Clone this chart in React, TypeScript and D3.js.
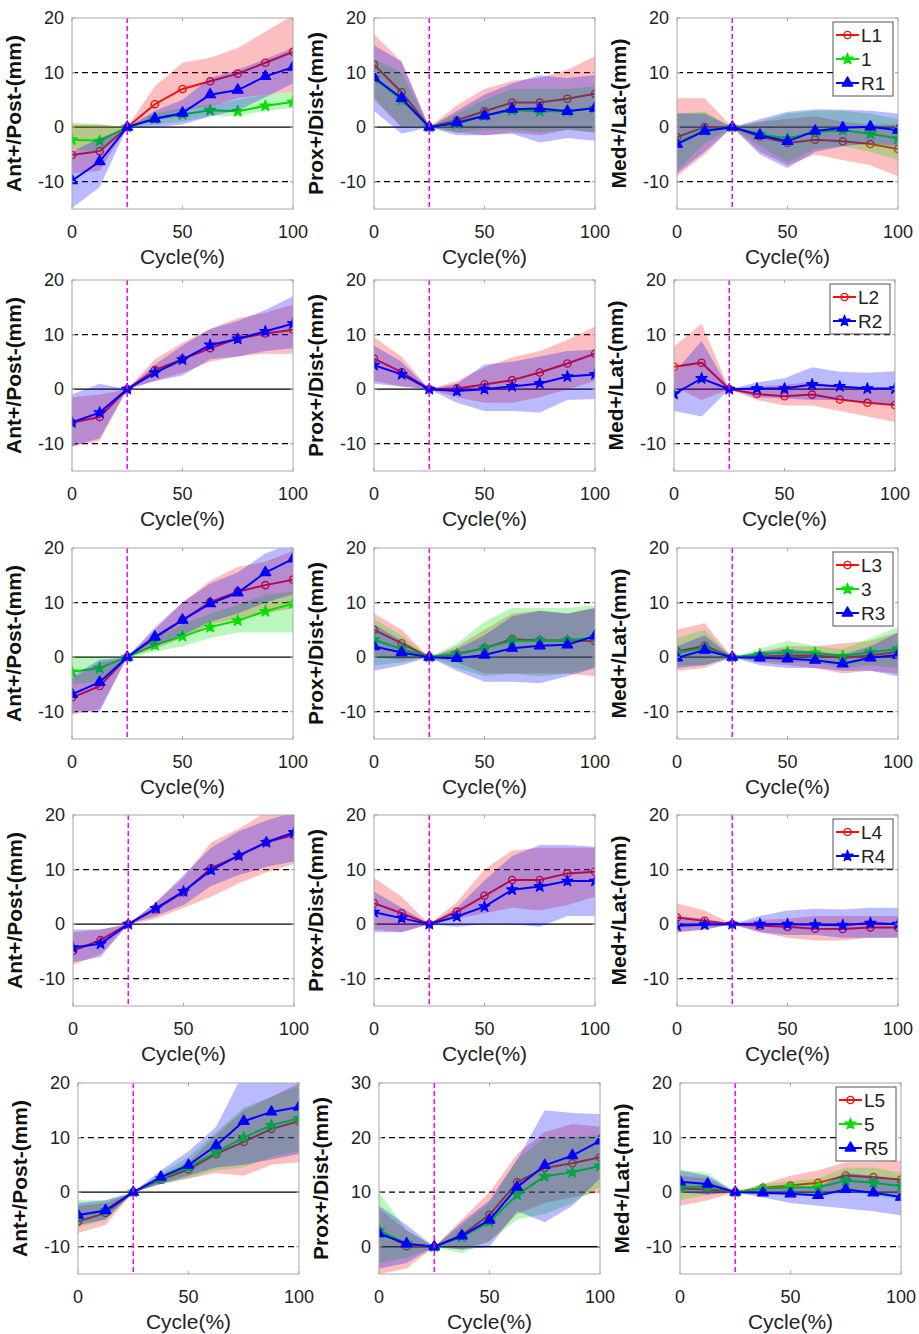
import React from 'react';
import * as d3 from 'd3';

// gait cycle samples (%)
const cycle = [0, 12.5, 25, 37.5, 50, 62.5, 75, 87.5, 100];

// m = mean, lo/hi = band edges. L = left, M = middle, R = right
// row 1
const ap1L = { m: [-5.1, -4.4, 0, 4.2, 7.0, 8.4, 9.8, 11.8, 13.8], lo: [-8.5, -8, 0, 1.3, 3.2, 3.8, 5.3, 6.0, 6.5], hi: [0.5, 0.5, 0, 7.5, 11.8, 12.7, 14.5, 17.5, 20.5] };
const ap1M = { m: [-2.3, -2.5, 0, 1.5, 2.3, 3.1, 2.9, 3.9, 4.6], lo: [-4, -4.5, 0, 0.5, 1, 2, 2, 3, 3.5], hi: [0.8, 0.5, 0, 2.5, 3.5, 4, 5, 6, 6.5] };
const ap1R = { m: [-9.8, -6.3, 0, 1.55, 2.6, 5.95, 6.8, 9.3, 11.0], lo: [-14.8, -11, 0, 0, 0.5, 2, 3, 5.5, 8], hi: [-4.5, -2, 0, 3, 5, 9, 10.5, 12.5, 14.5] };
const pd1L = { m: [11.45, 6.4, 0, 1.25, 2.9, 4.5, 4.5, 5.2, 6.1], lo: [5, 0, 0, -1, -1.5, -1, -1.5, -0.5, -1], hi: [17, 12, 0, 4, 7, 8.5, 9, 10.5, 13] };
const pd1M = { m: [9.0, 5.0, 0, 0.6, 2.1, 3.1, 2.9, 2.9, 3.5], lo: [5.5, 0, 0, -1, -0.5, -0.5, -1, -0.5, -1], hi: [12.5, 10, 0, 2.5, 5, 7, 7, 7, 7.5] };
const pd1R = { m: [9.1, 5.3, 0, 0.8, 2.1, 3.3, 3.4, 2.9, 3.5], lo: [3, -1.2, 0, -1.5, -1.5, -1.2, -2.8, -2, -2.5], hi: [15, 12, 0, 3, 6, 8, 9.5, 9, 9.5] };
const ml1L = { m: [-1.8, 0, 0, -1.7, -2.9, -2.3, -2.6, -3.1, -4.0], lo: [-9, -5, 0, -4.5, -7, -5, -6, -7, -9], hi: [5.3, 5.3, 0, 1, 1.5, 2, 1, 0.5, 0.5] };
const ml1M = { m: [-2.9, -0.6, 0, -1.3, -2.1, -0.9, -0.55, -1.2, -2.1], lo: [-8, -3, 0, -3.5, -6.5, -4, -3.5, -4.5, -6], hi: [2.5, 2.8, 0, 1, 2.5, 3, 3, 2.5, 1.5] };
const ml1R = { m: [-3.1, -0.7, 0, -1.5, -2.6, -0.7, -0.1, 0.05, -0.55], lo: [-8.5, -4.5, 0, -5, -7.5, -4.5, -3.5, -3, -3.5], hi: [2.5, 2.5, 0, 1.5, 2.8, 3.3, 3.2, 3, 2.5] };
// row 2
const ap2L = { m: [-6.1, -5.1, 0, 3.5, 5.5, 7.5, 9.3, 10.2, 10.9], lo: [-10.5, -9.5, 0, 1.5, 3, 5, 6, 6.5, 6.5], hi: [-1.5, -1, 0, 5.5, 8.5, 11, 13, 14, 15.5] };
const ap2R = { m: [-6.1, -4.3, 0, 3.0, 5.4, 8.1, 9.2, 10.6, 12.0], lo: [-10.5, -9, 0, 1.5, 2.5, 5.5, 6, 7, 7.5], hi: [-1, 1, 0, 4.5, 8, 11, 12.5, 14.5, 17] };
const pd2L = { m: [5.6, 3.1, 0, 0.1, 0.85, 1.65, 3.05, 4.7, 6.5], lo: [1.5, 0.5, 0, -1.5, -2.5, -2.5, -1.5, 0, 1.5], hi: [9.5, 6, 0, 1.5, 4, 5.8, 7, 9, 11.5] };
const pd2R = { m: [4.4, 2.7, 0, -0.35, 0, 0.5, 1.05, 2.3, 2.7], lo: [1, 0.5, 0, -2.5, -4, -4, -4.3, -2, -1.8], hi: [8, 5, 0, 1, 4.5, 5, 6, 7, 7.2] };
const ml2L = { m: [4.1, 4.85, 0, -0.9, -1.3, -1.0, -1.9, -2.5, -2.9], lo: [0.5, -2, 0, -2, -3, -3, -4, -5, -6], hi: [7.8, 12, 0, 0.5, 0.8, 1.3, 0.5, 0, 0] };
const ml2R = { m: [-0.9, 1.95, 0, 0.1, 0.1, 0.85, 0.5, 0.1, 0.1], lo: [-4, -5, 0, -1.5, -1.7, -2, -2, -2.5, -3], hi: [3, 8.8, 0, 1.2, 2, 4, 3.2, 3, 3.3] };
// row 3
const ap3L = { m: [-7.4, -5.3, 0, 3.5, 6.8, 10.1, 12.0, 13.2, 14.2], lo: [-10.5, -9.5, 0, 1.5, 3.5, 6, 7, 8, 9], hi: [-4, -1, 0, 5, 10, 14, 16.5, 17.5, 19.5] };
const ap3M = { m: [-2.7, -2.0, 0, 2.2, 3.8, 5.5, 6.7, 8.4, 9.8], lo: [-5, -4.5, 0, 1, 2, 3.5, 4.5, 4.5, 4.5], hi: [0, 0, 0, 3.5, 6, 8, 9.5, 11.5, 12] };
const ap3R = { m: [-6.8, -4.6, 0, 3.7, 6.8, 9.8, 11.8, 15.5, 18.0], lo: [-10, -10, 0, 2, 4, 6.5, 8, 10, 11.5], hi: [-3.5, -0.5, 0, 5.5, 10, 13.5, 15.5, 19, 21] };
const pd3L = { m: [5.0, 2.55, 0, 0.55, 1.65, 3.3, 3.05, 3.05, 2.9], lo: [0, -0.5, 0, -1, -3, -3, -3, -3, -3.5], hi: [8, 5, 0, 2, 5, 8, 8.5, 8, 9] };
const pd3M = { m: [3.2, 1.5, 0, 0.6, 1.65, 3.0, 3.0, 3.05, 3.65], lo: [-1.5, -1, 0, -2, -3.5, -3, -3.5, -3, -2], hi: [7, 4, 0, 2.5, 6.5, 9, 9, 9, 9.5] };
const pd3R = { m: [1.95, 0.85, 0, -0.2, 0.4, 1.65, 2.1, 2.25, 3.9], lo: [-2.5, -1.5, 0, -2.5, -4.5, -4.5, -4.8, -3.5, -2], hi: [6, 3, 0, 1.5, 4, 7.5, 8.5, 8, 9] };
const ml3L = { m: [1.05, 2.1, 0, 0.1, 0.3, 0.3, -0.1, 0.3, 1.0], lo: [-2.5, -2, 0, -1, -1.5, -2, -3, -2.5, -3], hi: [5, 6.2, 0, 1, 2, 2, 2.5, 3, 4.5] };
const ml3M = { m: [0.8, 1.7, 0, 0.5, 0.9, 0.8, 0.2, 0.9, 1.5], lo: [-1.5, -1.5, 0, -0.8, -1, -1, -2, -1.5, -2], hi: [3.5, 5, 0, 1.5, 3, 2, 1.5, 3.5, 5.5] };
const ml3R = { m: [-0.1, 1.3, 0, -0.1, -0.3, -0.55, -1.2, -0.1, 0.4], lo: [-2, -1.5, 0, -1.5, -2, -2, -2.5, -2.5, -3.5], hi: [2, 4, 0, 1, 1.5, 1, 0.5, 2, 4.5] };
// row 4
const ap4L = { m: [-4.9, -2.9, 0, 2.75, 5.85, 10.25, 12.55, 15.0, 16.35], lo: [-7.5, -5.5, 0, 1, 3, 5, 7.5, 9.5, 11], hi: [-1.5, -1, 0, 4, 8.5, 15, 17.5, 20.5, 21] };
const ap4R = { m: [-4.3, -3.6, 0, 2.9, 6.0, 9.9, 12.55, 15.0, 16.8], lo: [-7, -6, 0, 1.5, 3.5, 7, 9, 10.5, 11.5], hi: [-1, -1, 0, 4, 9, 14, 17, 19, 20.5] };
const pd4L = { m: [3.85, 2.0, 0, 2.3, 5.2, 8.1, 8.1, 9.3, 9.6], lo: [-1, -1.5, 0, 1, 2, 3, 2.5, 3.5, 5], hi: [8.5, 5, 0, 4, 10, 13.5, 14, 14, 14] };
const pd4R = { m: [2.2, 1.1, 0, 1.4, 3.2, 6.3, 6.9, 7.9, 7.9], lo: [-1.5, -1.5, 0, -0.5, 0, 0, -0.5, 1.5, 1.5], hi: [6, 3, 0, 3, 8, 12.5, 14.5, 14.5, 14.2] };
const ml4L = { m: [1.2, 0.6, 0, -0.3, -0.5, -0.85, -0.9, -0.6, -0.6], lo: [-1.5, -1, 0, -1.5, -2.5, -3, -3, -2.5, -2.5], hi: [3.8, 2.5, 0, 0.8, 1, 1.5, 1.5, 1.5, 1.5] };
const ml4R = { m: [-0.3, -0.1, 0, 0, 0, -0.1, -0.2, 0.2, 0], lo: [-1.5, -1, 0, -1.5, -2, -2, -2.5, -2.5, -2.5], hi: [1.5, 1, 0, 1.5, 2.5, 2.8, 2.7, 3, 3] };
// row 5
const ap5L = { m: [-5.4, -3.8, 0, 2.3, 4.15, 7.0, 9.2, 11.6, 13.0], lo: [-7.5, -6, 0, 1.5, 2.5, 3.5, 3, 5, 5.5], hi: [-2.5, -2, 0, 3, 5.5, 10.5, 15, 17.5, 20] };
const ap5M = { m: [-4.3, -3.35, 0, 2.5, 4.6, 7.3, 10.05, 12.25, 13.5], lo: [-6.5, -5, 0, 1.5, 2.5, 4, 4.5, 6.5, 7.5], hi: [-1.5, -1.5, 0, 3.5, 6.5, 11, 15.5, 17.5, 19.5] };
const ap5R = { m: [-4.2, -3.35, 0, 2.75, 4.95, 8.55, 13.0, 14.7, 15.6], lo: [-6, -5, 0, 1.5, 3, 4.5, 5, 6, 7], hi: [-2, -1.5, 0, 4, 7.5, 12, 22, 21.5, 21] };
const pd5L = { m: [2.9, 0.1, 0, 2.15, 5.85, 11.8, 14.45, 15.3, 16.4], lo: [-5, -4, 0, -0.5, 1, 6, 8, 9, 10], hi: [7, 3, 0, 5, 10, 17, 21, 22.5, 22] };
const pd5M = { m: [3.0, 0.55, 0, 1.8, 4.55, 9.5, 12.9, 13.65, 14.8], lo: [-3, -2, 0, -1.2, 1, 5, 6, 8, 11], hi: [10, 3, 0, 4, 8, 16, 20, 20, 20.5] };
const pd5R = { m: [2.4, 0.55, 0, 2.0, 4.9, 10.9, 14.9, 16.7, 19.4], lo: [-4, -3, 0, -0.5, 0, 6.5, 4.5, 7.5, 12.5], hi: [7.5, 4, 0, 4.5, 8.5, 16, 25, 24.5, 24.3] };
const ml5L = { m: [0.65, 0.5, 0, 0.8, 1.2, 1.7, 3.05, 2.75, 2.3], lo: [-2.5, -1.5, 0, -0.5, -0.5, -0.5, 0.5, 0, -1], hi: [3, 2.5, 0, 1.5, 3, 4, 5.5, 5.5, 5.8] };
const ml5M = { m: [0.9, 1.1, 0, 0.65, 0.9, 0.9, 2.1, 1.7, 1.1], lo: [-1.5, -0.5, 0, 0, -0.5, -0.5, 0, -0.5, -1.5], hi: [4, 3.5, 0, 1.5, 2, 2.5, 4.5, 4.5, 3.5] };
const ml5R = { m: [1.9, 1.5, 0, -0.1, -0.3, -0.6, 0.5, -0.1, -0.9], lo: [0, -0.5, 0, -1, -2, -2.5, -3, -3.5, -4.3], hi: [4, 3, 0, 0.8, 1, 1, 3.5, 3, 2.3] };

const yLabels = ['Ant+/Post-(mm)', 'Prox+/Dist-(mm)', 'Med+/Lat-(mm)'];
const legendNames = [
  ['L1', '1', 'R1'],
  ['L2', 'R2'],
  ['L3', '3', 'R3'],
  ['L4', 'R4'],
  ['L5', '5', 'R5'],
];
const yTicks = [-10, 0, 10, 20];
const yTicksTall = [0, 10, 20, 30];
const xTicks = [0, 50, 100];

const COLORS = { L: '#f50f0f', M: '#00e000', R: '#0000ff' };

type Ser = { m: number[]; lo: number[]; hi: number[] };
type Entry = { s: Ser; k: 'L' | 'M' | 'R'; mk: 'circle' | 'star' | 'tri' };

const rows: Entry[][][] = [
  [
    [{ s: ap1L, k: 'L', mk: 'circle' }, { s: ap1M, k: 'M', mk: 'star' }, { s: ap1R, k: 'R', mk: 'tri' }],
    [{ s: pd1L, k: 'L', mk: 'circle' }, { s: pd1M, k: 'M', mk: 'star' }, { s: pd1R, k: 'R', mk: 'tri' }],
    [{ s: ml1L, k: 'L', mk: 'circle' }, { s: ml1M, k: 'M', mk: 'star' }, { s: ml1R, k: 'R', mk: 'tri' }],
  ],
  [
    [{ s: ap2L, k: 'L', mk: 'circle' }, { s: ap2R, k: 'R', mk: 'star' }],
    [{ s: pd2L, k: 'L', mk: 'circle' }, { s: pd2R, k: 'R', mk: 'star' }],
    [{ s: ml2L, k: 'L', mk: 'circle' }, { s: ml2R, k: 'R', mk: 'star' }],
  ],
  [
    [{ s: ap3L, k: 'L', mk: 'circle' }, { s: ap3M, k: 'M', mk: 'star' }, { s: ap3R, k: 'R', mk: 'tri' }],
    [{ s: pd3L, k: 'L', mk: 'circle' }, { s: pd3M, k: 'M', mk: 'star' }, { s: pd3R, k: 'R', mk: 'tri' }],
    [{ s: ml3L, k: 'L', mk: 'circle' }, { s: ml3M, k: 'M', mk: 'star' }, { s: ml3R, k: 'R', mk: 'tri' }],
  ],
  [
    [{ s: ap4L, k: 'L', mk: 'circle' }, { s: ap4R, k: 'R', mk: 'star' }],
    [{ s: pd4L, k: 'L', mk: 'circle' }, { s: pd4R, k: 'R', mk: 'star' }],
    [{ s: ml4L, k: 'L', mk: 'circle' }, { s: ml4R, k: 'R', mk: 'star' }],
  ],
  [
    [{ s: ap5L, k: 'L', mk: 'circle' }, { s: ap5M, k: 'M', mk: 'star' }, { s: ap5R, k: 'R', mk: 'tri' }],
    [{ s: pd5L, k: 'L', mk: 'circle' }, { s: pd5M, k: 'M', mk: 'star' }, { s: pd5R, k: 'R', mk: 'tri' }],
    [{ s: ml5L, k: 'L', mk: 'circle' }, { s: ml5M, k: 'M', mk: 'star' }, { s: ml5R, k: 'R', mk: 'tri' }],
  ],
];

// layout
const W = 919, H = 1334;
const rowTop = [18, 280, 548, 815, 1083];
const colLeft = [
  [72, 374, 677],
  [72, 374, 674],
  [72, 374, 677],
  [73, 374, 677],
  [78, 379, 680],
];
const PW = 221, PH = 191;
const FONT = '"Liberation Sans", Arial, sans-serif';
const BOX = '#a8a8a8';

const Marker = ({ mk, color, x, y }: { mk: string; color: string; x: number; y: number }) => {
  if (mk === 'circle')
    return <circle cx={x} cy={y} r={3.6} fill="none" stroke={color} strokeWidth={1.4} />;
  const sym = mk === 'tri' ? d3.symbolTriangle : d3.symbolStar;
  const size = mk === 'tri' ? 50 : 38;
  return <path d={d3.symbol(sym, size)() as string} transform={`translate(${x},${y})`} fill={color} stroke={color} strokeWidth={1.2} strokeLinejoin="round" />;
};

function Panel({ r, c, entries }: { r: number; c: number; entries: Entry[] }) {
  const x0 = colLeft[r][c];
  const y0 = rowTop[r];
  const tall = r === 4 && c === 1;
  const dom: [number, number] = tall ? [-5, 30] : [-15, 20];
  const ticks = tall ? yTicksTall : yTicks;
  const x = d3.scaleLinear().domain([0, 100]).range([x0, x0 + PW]);
  const y = d3.scaleLinear().domain(dom).range([y0 + PH, y0]);
  const clipId = `clip-${r}-${c}`;
  const dashLevels = [-20, -10, 10, 20].filter(v => v > dom[0] && v < dom[1]);

  const line = d3.line<number>().x((_, i) => x(cycle[i])).y(d => y(d));

  return (
    <g>
      <defs>
        <clipPath id={clipId}>
          <rect x={x0} y={y0} width={PW} height={PH} />
        </clipPath>
      </defs>
      <rect x={x0} y={y0} width={PW} height={PH} fill="#fff" />
      <g clipPath={`url(#${clipId})`}>
        {dashLevels.map(v => (
          <line key={v} x1={x0} x2={x0 + PW} y1={y(v)} y2={y(v)} stroke="#000" strokeWidth={1.3} strokeDasharray="6,4" />
        ))}
        <line x1={x0} x2={x0 + PW} y1={y(0)} y2={y(0)} stroke="#000" strokeWidth={1.4} />
        {entries.map((e, i) => {
          const area = d3.area<number>()
            .x((_, j) => x(cycle[j]))
            .y0((_, j) => y(e.s.lo[j]))
            .y1((_, j) => y(e.s.hi[j]));
          const col = COLORS[e.k];
          return (
            <g key={i}>
              <path d={area(e.s.m) as string} fill={col} fillOpacity={0.27} stroke="none" />
              <path d={line(e.s.m) as string} fill="none" stroke={col} strokeWidth={2} />
              {e.s.m.map((v, j) => (
                <Marker key={j} mk={e.mk} color={col} x={x(cycle[j])} y={y(v)} />
              ))}
            </g>
          );
        })}
        <line x1={x(25)} x2={x(25)} y1={y0} y2={y0 + PH} stroke="#ff00ff" strokeWidth={1.5} strokeDasharray="5,3" />
      </g>
      {/* box and inner ticks */}
      <rect x={x0} y={y0} width={PW} height={PH} fill="none" stroke={BOX} strokeWidth={1} />
      {xTicks.map(t => (
        <g key={t}>
          <line x1={x(t)} x2={x(t)} y1={y0 + PH} y2={y0 + PH - 3} stroke={BOX} />
          <line x1={x(t)} x2={x(t)} y1={y0} y2={y0 + 3} stroke={BOX} />
          <text x={x(t)} y={y0 + PH + 29} textAnchor="middle" fontSize={18} fill="#222" fontFamily={FONT}>{t}</text>
        </g>
      ))}
      {ticks.map(t => (
        <g key={t}>
          <line x1={x0} x2={x0 + 3} y1={y(t)} y2={y(t)} stroke={BOX} />
          <line x1={x0 + PW} x2={x0 + PW - 3} y1={y(t)} y2={y(t)} stroke={BOX} />
          <text x={x0 - 8} y={y(t)} dy="0.35em" textAnchor="end" fontSize={18} fill="#222" fontFamily={FONT}>{t}</text>
        </g>
      ))}
      <text x={x0 + PW / 2} y={y0 + PH + 55} textAnchor="middle" fontSize={21} fill="#222" fontFamily={FONT}>Cycle(%)</text>
      <text transform={`translate(${x0 - 51},${y0 + PH / 2}) rotate(-90)`} textAnchor="middle" fontSize={21} fontWeight="bold" fill="#111" fontFamily={FONT}>
        {yLabels[c]}
      </text>
      {c === 2 && <Legend x1={x0 + PW - 5} y0={y0 + 4} entries={entries} names={legendNames[r]} />}
    </g>
  );
}

function Legend({ x1, y0, entries, names }: { x1: number; y0: number; entries: Entry[]; names: string[] }) {
  const bw = 60;
  const rowH = 24;
  const bx = x1 - bw;
  return (
    <g>
      <rect x={bx} y={y0} width={bw} height={entries.length * rowH + 2} fill="#fff" stroke="#555" strokeWidth={1} />
      {entries.map((e, i) => {
        const cy = y0 + 13 + i * rowH;
        const col = COLORS[e.k];
        return (
          <g key={i}>
            <line x1={bx + 3} x2={bx + 26} y1={cy} y2={cy} stroke={col} strokeWidth={2} />
            <Marker mk={e.mk} color={col} x={bx + 14.5} y={cy} />
            <text x={bx + 28} y={cy} dy="0.35em" fontSize={19} fill="#222" fontFamily={FONT}>{names[i]}</text>
          </g>
        );
      })}
    </g>
  );
}

export default function App() {
  return (
    <svg width={W} height={H} style={{ position: 'absolute', left: 0, top: 0, background: '#fff' }}>
      <rect width={W} height={H} fill="#fff" />
      {rows.map((row, r) => row.map((entries, c) => (
        <Panel key={`${r}-${c}`} r={r} c={c} entries={entries} />
      )))}
    </svg>
  );
}
